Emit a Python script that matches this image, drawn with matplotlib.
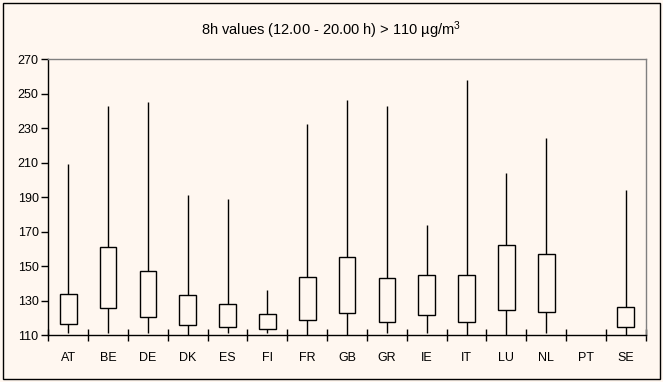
import numpy as np
import matplotlib.pyplot as plt
from matplotlib.patches import Rectangle

# Страны и значения (мин, нижний квартиль, верхний квартиль, макс)
countries = ['AT', 'BE', 'DE', 'DK', 'ES', 'FI', 'FR', 'GB', 'GR', 'IE', 'IT', 'LU', 'NL', 'PT', 'SE']
v_min = [111.5, 111.5, 111.5, 110, 111.5, 111.5, 110, 110, 111.5, 111.5, 110, 110, 111.5, np.nan, 110]
q_low = [116.4, 125.7, 120.4, 115.8, 114.6, 113.5, 118.7, 122.7, 117.5, 121.6, 117.5, 124.5, 123.3, np.nan, 114.6]
q_high = [133.8, 161.0, 147.3, 133.2, 128.0, 122.2, 143.6, 155.2, 143.0, 144.8, 144.8, 162.2, 157.0, np.nan, 126.2]
v_max = [209.3, 242.9, 245.4, 191.3, 189.0, 136.3, 232.5, 246.4, 242.9, 173.9, 258.0, 204.1, 224.4, np.nan, 194.2]

bg = '#fff7f0'
plt.rcParams['font.family'] = ['Liberation Sans', 'DejaVu Sans']
plt.rcParams['mathtext.default'] = 'regular'

fig = plt.figure(figsize=(6.63, 3.82), dpi=100, facecolor=bg)
ax = fig.add_axes([0.0729, 0.1223, 0.9011, 0.7225], facecolor=bg)

x = np.arange(len(countries))
lo = np.array(v_min)
q1 = np.array(q_low)
q3 = np.array(q_high)
hi = np.array(v_max)

# Усы и коробки
ax.vlines(x, lo, q1, color='black', lw=1)
ax.vlines(x, q3, hi, color='black', lw=1)
ax.bar(x, q3 - q1, bottom=q1, width=0.42, fill=False, edgecolor='black', lw=1)

ax.set_xlim(-0.5, len(countries) - 0.5)
ax.set_ylim(110, 270)
ax.set_yticks(np.arange(110, 271, 20))
ax.set_xticks(x)
ax.set_xticklabels(countries)
ax.set_xticks(np.arange(-0.5, len(countries)), minor=True)

ax.tick_params(axis='y', direction='out', length=5, width=1, labelsize=9, pad=2)
ax.tick_params(axis='x', which='major', length=0, labelsize=9, pad=12)
ax.tick_params(axis='x', which='minor', direction='inout', length=8, width=1)

for s in ['left', 'bottom']:
    ax.spines[s].set_color('black')
    ax.spines[s].set_linewidth(1)
for s in ['top', 'right']:
    ax.spines[s].set_color('#808080')
    ax.spines[s].set_linewidth(1)

fig.text(0.5, 0.92, '8h values (12.00 - 20.00 h) > 110 µg/m$^3$', ha='center', va='center', fontsize=10.5)

# Рамка вокруг всего рисунка
fig.patches.append(Rectangle((0.0045, 0.0086), 0.9905, 0.9835, transform=fig.transFigure,
                             fill=False, edgecolor='black', lw=1))

plt.savefig('out.png', dpi=100, facecolor=bg)
